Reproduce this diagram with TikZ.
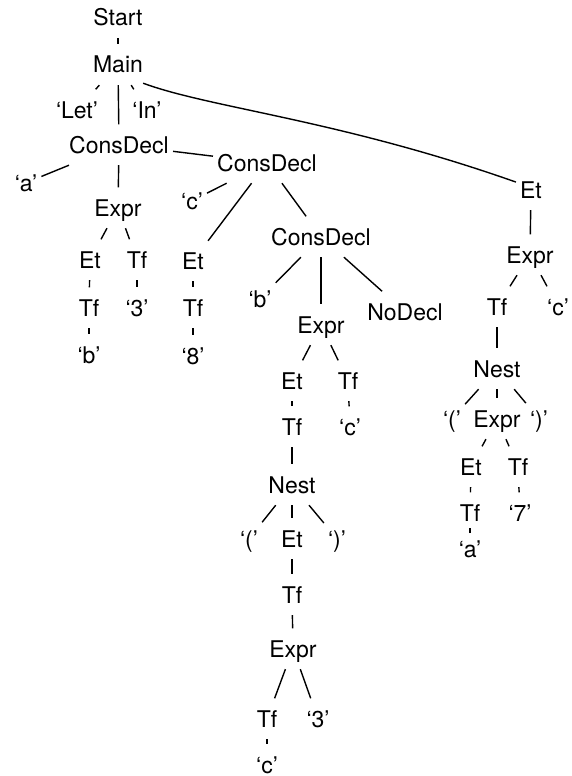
\documentclass[tikz,border=0pt]{standalone}
\usepackage{fontspec}
\setmainfont{TeX Gyre Heros}
\begin{document}
\begin{tikzpicture}[x=1pt,y=-1pt,
  t/.style={font=\fontsize{23}{27}\selectfont, text height=16.5pt, text depth=0pt,
    inner xsep=4pt, inner ysep=12pt, anchor=base},
  e/.style={line width=1.4pt}]
\useasboundingbox (0,0) rectangle (571,776);
% left part
\node[t] (n0) at (118,26) {Start};
\node[t] (n1) at (118,73) {Main};
\node[t] (let) at (77,118) {‘Let’};
\node[t] (in) at (147,118) {‘In’};
\node[t] (cd1) at (119,153) {ConsDecl};
\node[t] (a1) at (26,191) {‘a’};
\node[t] (cd2) at (267,171) {ConsDecl};
\node[t] (ex1) at (118,216) {Expr};
\node[t] (et1) at (90,268) {Et};
\node[t] (tf1) at (137,268) {Tf};
\node[t] (tf2) at (89,316) {Tf};
\node[t] (q3) at (137,316) {‘3’};
\node[t] (qb) at (89,363) {‘b’};
\node[t] (qc1) at (192,209) {‘c’};
\node[t] (et2) at (193,269) {Et};
\node[t] (tf3) at (193,316) {Tf};
\node[t] (q8) at (193,364) {‘8’};
% middle
\node[t] (cd3) at (321,245) {ConsDecl};
\node[t] (qb2) at (260,307) {‘b’};
\node[t] (ex2) at (321,333) {Expr};
\node[t] (nod) at (405,320) {NoDecl};
\node[t] (et3) at (292,389) {Et};
\node[t] (tf4) at (348,389) {Tf};
\node[t] (tf5) at (292,435) {Tf};
\node[t] (qc2) at (350,435) {‘c’};
\node[t] (nest1) at (292,493) {Nest};
\node[t] (lp1) at (249,547) {‘(’};
\node[t] (et4) at (292,547) {Et};
\node[t] (rp1) at (337,547) {‘)’};
\node[t] (tf6) at (292,603) {Tf};
\node[t] (ex3) at (293,657) {Expr};
\node[t] (tf7) at (267,727) {Tf};
\node[t] (q3b) at (318,727) {‘3’};
\node[t] (qc3) at (267,773) {‘c’};
% right
\node[t] (etR) at (531,198) {Et};
\node[t] (exR) at (530,263) {Expr};
\node[t] (tfR) at (497,315) {Tf};
\node[t] (qcR) at (558,315) {‘c’};
\node[t] (nestR) at (497,377) {Nest};
\node[t] (lpR) at (452,427) {‘(’};
\node[t] (exR2) at (497,427) {Expr};
\node[t] (rpR) at (539,427) {‘)’};
\node[t] (etR2) at (471,475) {Et};
\node[t] (tfR2) at (518,475) {Tf};
\node[t] (tfR3) at (470,521) {Tf};
\node[t] (q7) at (520,521) {‘7’};
\node[t] (qaR) at (470,557) {‘a’};
% edges
\draw[e] (n0)--(n1);
\draw[e] (n1)--(let);
\draw[e] (n1)--(cd1);
\draw[e] (n1)--(in);
\draw[e] ([shift={(-4,-2)}]n1.south east) .. controls (210,108) and (340,120) .. (etR.153);
\draw[e] (cd1)--(a1);
\draw[e] (cd1)--(ex1);
\draw[e] (cd1)--(cd2);
\draw[e] (ex1)--(et1);
\draw[e] (ex1)--(tf1);
\draw[e] (et1)--(tf2);
\draw[e] (tf1)--(q3);
\draw[e] (tf2)--(qb);
\draw[e] (cd2)--(qc1);
\draw[e] (cd2)--(et2);
\draw[e] (cd2)--(cd3);
\draw[e] (et2)--(tf3);
\draw[e] (tf3)--(q8);
\draw[e] (cd3)--(qb2);
\draw[e] (cd3)--(ex2);
\draw[e] (cd3)--(nod);
\draw[e] (ex2)--(et3);
\draw[e] (ex2)--(tf4);
\draw[e] (et3)--(tf5);
\draw[e] (tf4)--(qc2);
\draw[e] (tf5)--(nest1);
\draw[e] (nest1)--(lp1);
\draw[e] (nest1)--(et4);
\draw[e] (nest1)--(rp1);
\draw[e] (et4)--(tf6);
\draw[e] (tf6)--(ex3);
\draw[e] (ex3)--(tf7);
\draw[e] (ex3)--(q3b);
\draw[e] (tf7)--(qc3);
\draw[e] (etR)--(exR);
\draw[e] (exR)--(tfR);
\draw[e] (exR)--(qcR);
\draw[e] (tfR)--(nestR);
\draw[e] (nestR)--(lpR);
\draw[e] (nestR)--(exR2);
\draw[e] (nestR)--(rpR);
\draw[e] (exR2)--(etR2);
\draw[e] (exR2)--(tfR2);
\draw[e] (etR2)--(tfR3);
\draw[e] (tfR2)--(q7);
\draw[e] (tfR3)--(qaR);
\end{tikzpicture}
\end{document}
